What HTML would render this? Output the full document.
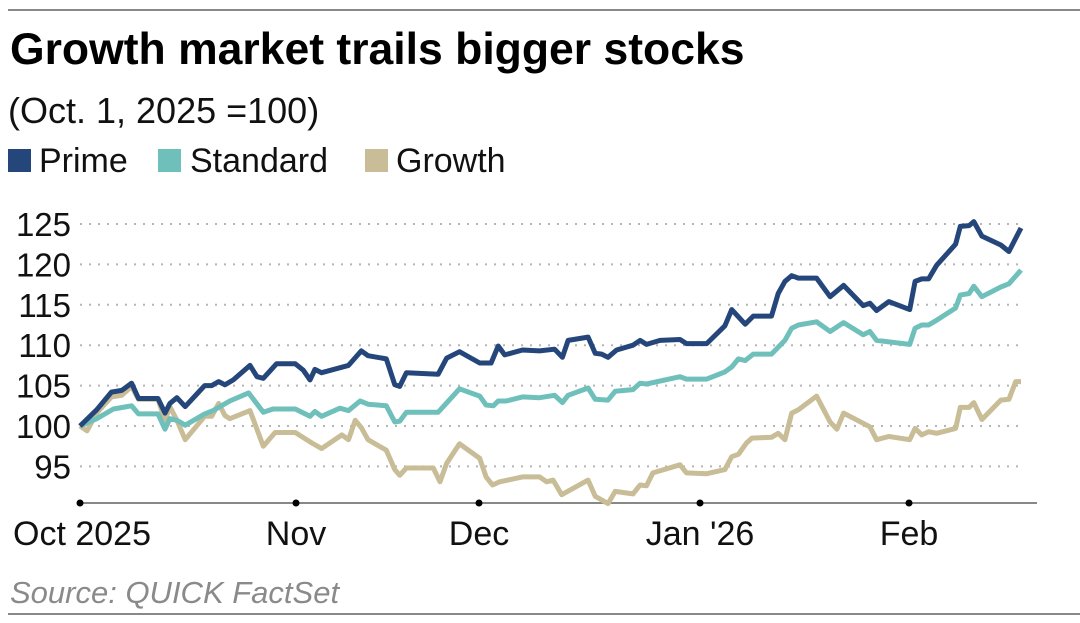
<!DOCTYPE html>
<html><head><meta charset="utf-8"><style>
html,body{margin:0;padding:0;background:#fff;}
svg{display:block;font-family:"Liberation Sans",Arial,sans-serif;}
</style></head><body>
<svg id="chart" width="1080" height="623" viewBox="0 0 1080 623">
<line x1="8" y1="10" x2="1080" y2="10" stroke="#888" stroke-width="2"/>
<text x="10" y="64" font-size="44.5" font-weight="bold" fill="#000">Growth market trails bigger stocks</text>
<text x="8" y="123" font-size="36" fill="#111">(Oct. 1, 2025 =100)</text>
<g>
<g><rect x="8" y="149" width="23" height="23" fill="#24467a"/><text x="39" y="172" font-size="34" fill="#111">Prime</text></g>
<g><rect x="158" y="149" width="23" height="23" fill="#6fc0bb"/><text x="190" y="172" font-size="34" fill="#111">Standard</text></g>
<g><rect x="365" y="149" width="23" height="23" fill="#c8bd96"/><text x="396" y="172" font-size="34" fill="#111">Growth</text></g>
</g>
<g id="grid"></g>
<g id="yticks"></g>
<g id="xaxis"></g>
<g id="series"></g>
<text x="10" y="603" font-size="31" font-style="italic" fill="#8a8a8a">Source: QUICK FactSet</text>
<line x1="8" y1="614" x2="1080" y2="614" stroke="#888" stroke-width="2"/>
</svg>
<script>
// x = days since Oct 1, 2025; y = index (Oct 1 = 100)
const yTicks = [95, 100, 105, 110, 115, 120, 125];
const monthLabels = ["Oct 2025", "Nov", "Dec", "Jan '26", "Feb"];
const monthDays = [0, 31, 61, 92, 123];
const primeX = [0,2.4,4.5,6.0,7.4,8.4,11.2,12.2,12.9,13.9,15.1,16.7,17.9,18.9,19.9,20.8,22.0,24.4,25.4,26.3,28.2,30.9,32.2,33.3,34.1,35.2,39.6,41.7,42.8,45.8,47.2,48.0,49.1,54.3,55.7,57.8,61.1,62.7,63.7,64.6,67.1,69.5,71.6,72.7,73.5,76.3,77.3,78.2,79.1,80.3,82.6,83.6,84.5,86.4,89.2,90.1,93.0,95.7,96.7,98.7,99.9,102.6,103.6,104.6,105.6,106.6,109.3,111.3,113.3,116.2,117.2,118.2,120.0,123.1,123.9,124.9,125.9,127.1,129.9,130.6,131.9,132.6,133.8,136.6,137.8,139.6];
const primeY = [100,102.0,104.2,104.4,105.3,103.4,103.4,101.6,102.8,103.5,102.4,103.9,105.0,105.0,105.5,105.1,105.7,107.5,106.1,105.9,107.7,107.7,106.9,105.7,107.0,106.6,107.5,109.3,108.7,108.3,105.1,104.9,106.6,106.4,108.4,109.2,107.8,107.8,109.9,108.8,109.4,109.3,109.5,108.5,110.6,111.0,109.0,108.9,108.5,109.4,110.0,110.6,110.1,110.6,110.7,110.2,110.2,112.4,114.4,112.6,113.6,113.6,116.4,117.9,118.6,118.3,118.3,116.0,117.4,114.9,115.2,114.3,115.4,114.4,117.9,118.2,118.2,119.9,122.5,124.7,124.8,125.3,123.5,122.4,121.6,124.5];
const standardX = [0,2.4,4.8,7.4,8.4,11.2,12.2,12.9,13.9,15.1,17.9,19.1,21.5,24.2,26.3,27.7,30.9,33.3,34.1,35.2,38.2,39.6,41.5,42.8,45.8,47.2,48.0,49.1,54.3,57.8,61.1,62.0,63.0,63.7,64.8,67.1,69.5,71.6,72.7,73.5,76.3,77.3,79.1,80.1,82.6,83.6,84.5,89.2,90.1,93.0,95.7,96.7,97.7,98.7,99.9,102.6,104.6,105.6,106.6,109.3,111.3,113.3,116.2,117.2,118.2,123.1,123.9,124.9,125.9,127.1,129.9,130.6,131.9,132.6,133.8,136.6,137.8,139.6];
const standardY = [100,100.9,102.1,102.5,101.5,101.5,99.6,100.9,100.7,100.1,101.5,101.9,103.1,104.1,101.7,102.1,102.1,101.2,101.8,101.2,102.2,101.9,103.1,102.7,102.5,100.5,100.6,101.7,101.7,104.6,103.7,102.6,102.5,103.1,103.1,103.6,103.5,103.8,102.9,103.8,104.7,103.3,103.2,104.3,104.5,105.3,105.2,106.1,105.8,105.8,106.7,107.3,108.3,108.1,108.9,108.9,110.6,112.1,112.5,112.9,111.7,112.8,111.3,111.7,110.6,110.1,112.1,112.5,112.5,113.1,114.6,116.2,116.4,117.3,116.0,117.2,117.6,119.3];
const growthX = [0,1.0,2.4,4.5,6.0,7.4,8.4,11.2,12.2,12.9,13.9,15.1,17.9,18.9,19.9,20.8,21.5,24.4,26.3,28.0,30.9,33.6,35.2,38.5,39.6,40.7,41.7,42.8,45.8,47.2,48.0,49.1,53.5,54.6,55.7,57.8,61.1,62.0,62.9,63.9,67.1,69.5,70.5,71.4,72.6,76.3,77.3,79.1,80.1,82.6,83.6,84.5,85.4,89.2,90.1,93.0,95.7,96.7,97.7,98.9,99.7,102.6,103.6,104.6,105.6,106.6,109.3,111.3,112.3,113.3,117.2,118.2,120.0,123.1,123.9,124.9,125.9,127.1,129.9,130.6,131.9,132.6,133.8,136.6,137.8,138.8,139.6];
const growthY = [100,99.4,101.6,103.6,103.8,104.9,103.3,103.3,100.7,102.4,100.7,98.3,101.2,101.2,102.8,101.3,100.9,101.9,97.5,99.2,99.2,97.9,97.2,98.9,98.3,100.7,99.8,98.3,97.0,94.6,93.9,94.8,94.8,93.1,95.4,97.8,96.0,93.7,92.7,93.1,93.7,93.7,93.1,93.3,91.5,93.3,91.3,90.4,91.9,91.6,92.7,92.6,94.2,95.2,94.2,94.1,94.6,96.2,96.5,97.9,98.5,98.6,99.1,98.3,101.6,102.0,103.7,100.5,99.6,101.6,99.9,98.3,98.7,98.3,99.7,98.9,99.3,99.1,99.7,102.3,102.3,102.9,100.8,103.2,103.3,105.5,105.5];

const NS = "http://www.w3.org/2000/svg";
const tickPx = [80, 296, 479, 700, 909];
function xScale(d) {
  for (let i = 0; i < monthDays.length - 1; i++) {
    if (d <= monthDays[i + 1]) {
      return tickPx[i] + (d - monthDays[i]) / (monthDays[i + 1] - monthDays[i]) * (tickPx[i + 1] - tickPx[i]);
    }
  }
  return tickPx[4] + (d - monthDays[4]) * 6.75;
}
function yScale(v) { return 426 - (v - 100) * 8.08; }

const grid = document.getElementById('grid');
const yt = document.getElementById('yticks');
yTicks.forEach(t => {
  const l = document.createElementNS(NS, 'line');
  l.setAttribute('x1', 80); l.setAttribute('x2', 1022);
  l.setAttribute('y1', yScale(t)); l.setAttribute('y2', yScale(t));
  l.setAttribute('stroke', '#b5b5b5'); l.setAttribute('stroke-width', '2');
  l.setAttribute('stroke-dasharray', '2 7');
  
  
  grid.appendChild(l);
  const tx = document.createElementNS(NS, 'text');
  tx.setAttribute('x', 71); tx.setAttribute('y', yScale(t) + 12);
  tx.setAttribute('text-anchor', 'end'); tx.setAttribute('font-size', '33'); tx.setAttribute('fill', '#111');
  tx.textContent = t;
  
  
  yt.appendChild(tx);
});

const xa = document.getElementById('xaxis');
const axl = document.createElementNS(NS, 'line');
axl.setAttribute('x1', 80); axl.setAttribute('x2', 1037); axl.setAttribute('y1', 503); axl.setAttribute('y2', 503);
axl.setAttribute('stroke', '#888'); axl.setAttribute('stroke-width', '2');


xa.appendChild(axl);
monthDays.forEach((d, i) => {
  const c = document.createElementNS(NS, 'circle');
  c.setAttribute('cx', xScale(d)); c.setAttribute('cy', 503); c.setAttribute('r', 3.5); c.setAttribute('fill', '#000');
  
  
  xa.appendChild(c);
  const tx = document.createElementNS(NS, 'text');
  tx.setAttribute('x', i === 0 ? 13 : xScale(d)); tx.setAttribute('y', 545);
  tx.setAttribute('text-anchor', i === 0 ? 'start' : 'middle');
  tx.setAttribute('font-size', '34'); tx.setAttribute('fill', '#111');
  tx.textContent = monthLabels[i];
  
  
  xa.appendChild(tx);
});

const sg = document.getElementById('series');
function drawLine(xs, ys, color, name) {
  const p = document.createElementNS(NS, 'path');
  p.setAttribute('d', xs.map((x, i) => (i ? 'L' : 'M') + xScale(x).toFixed(1) + ' ' + yScale(ys[i]).toFixed(1)).join(' '));
  p.setAttribute('fill', 'none'); p.setAttribute('stroke', color); p.setAttribute('stroke-width', '5');
  p.setAttribute('stroke-linejoin', 'round');
  
  
  sg.appendChild(p);
}
drawLine(growthX, growthY, '#c8bd96', 'growth-line');
drawLine(standardX, standardY, '#6fc0bb', 'standard-line');
drawLine(primeX, primeY, '#24467a', 'prime-line');
</script>
</body></html>
